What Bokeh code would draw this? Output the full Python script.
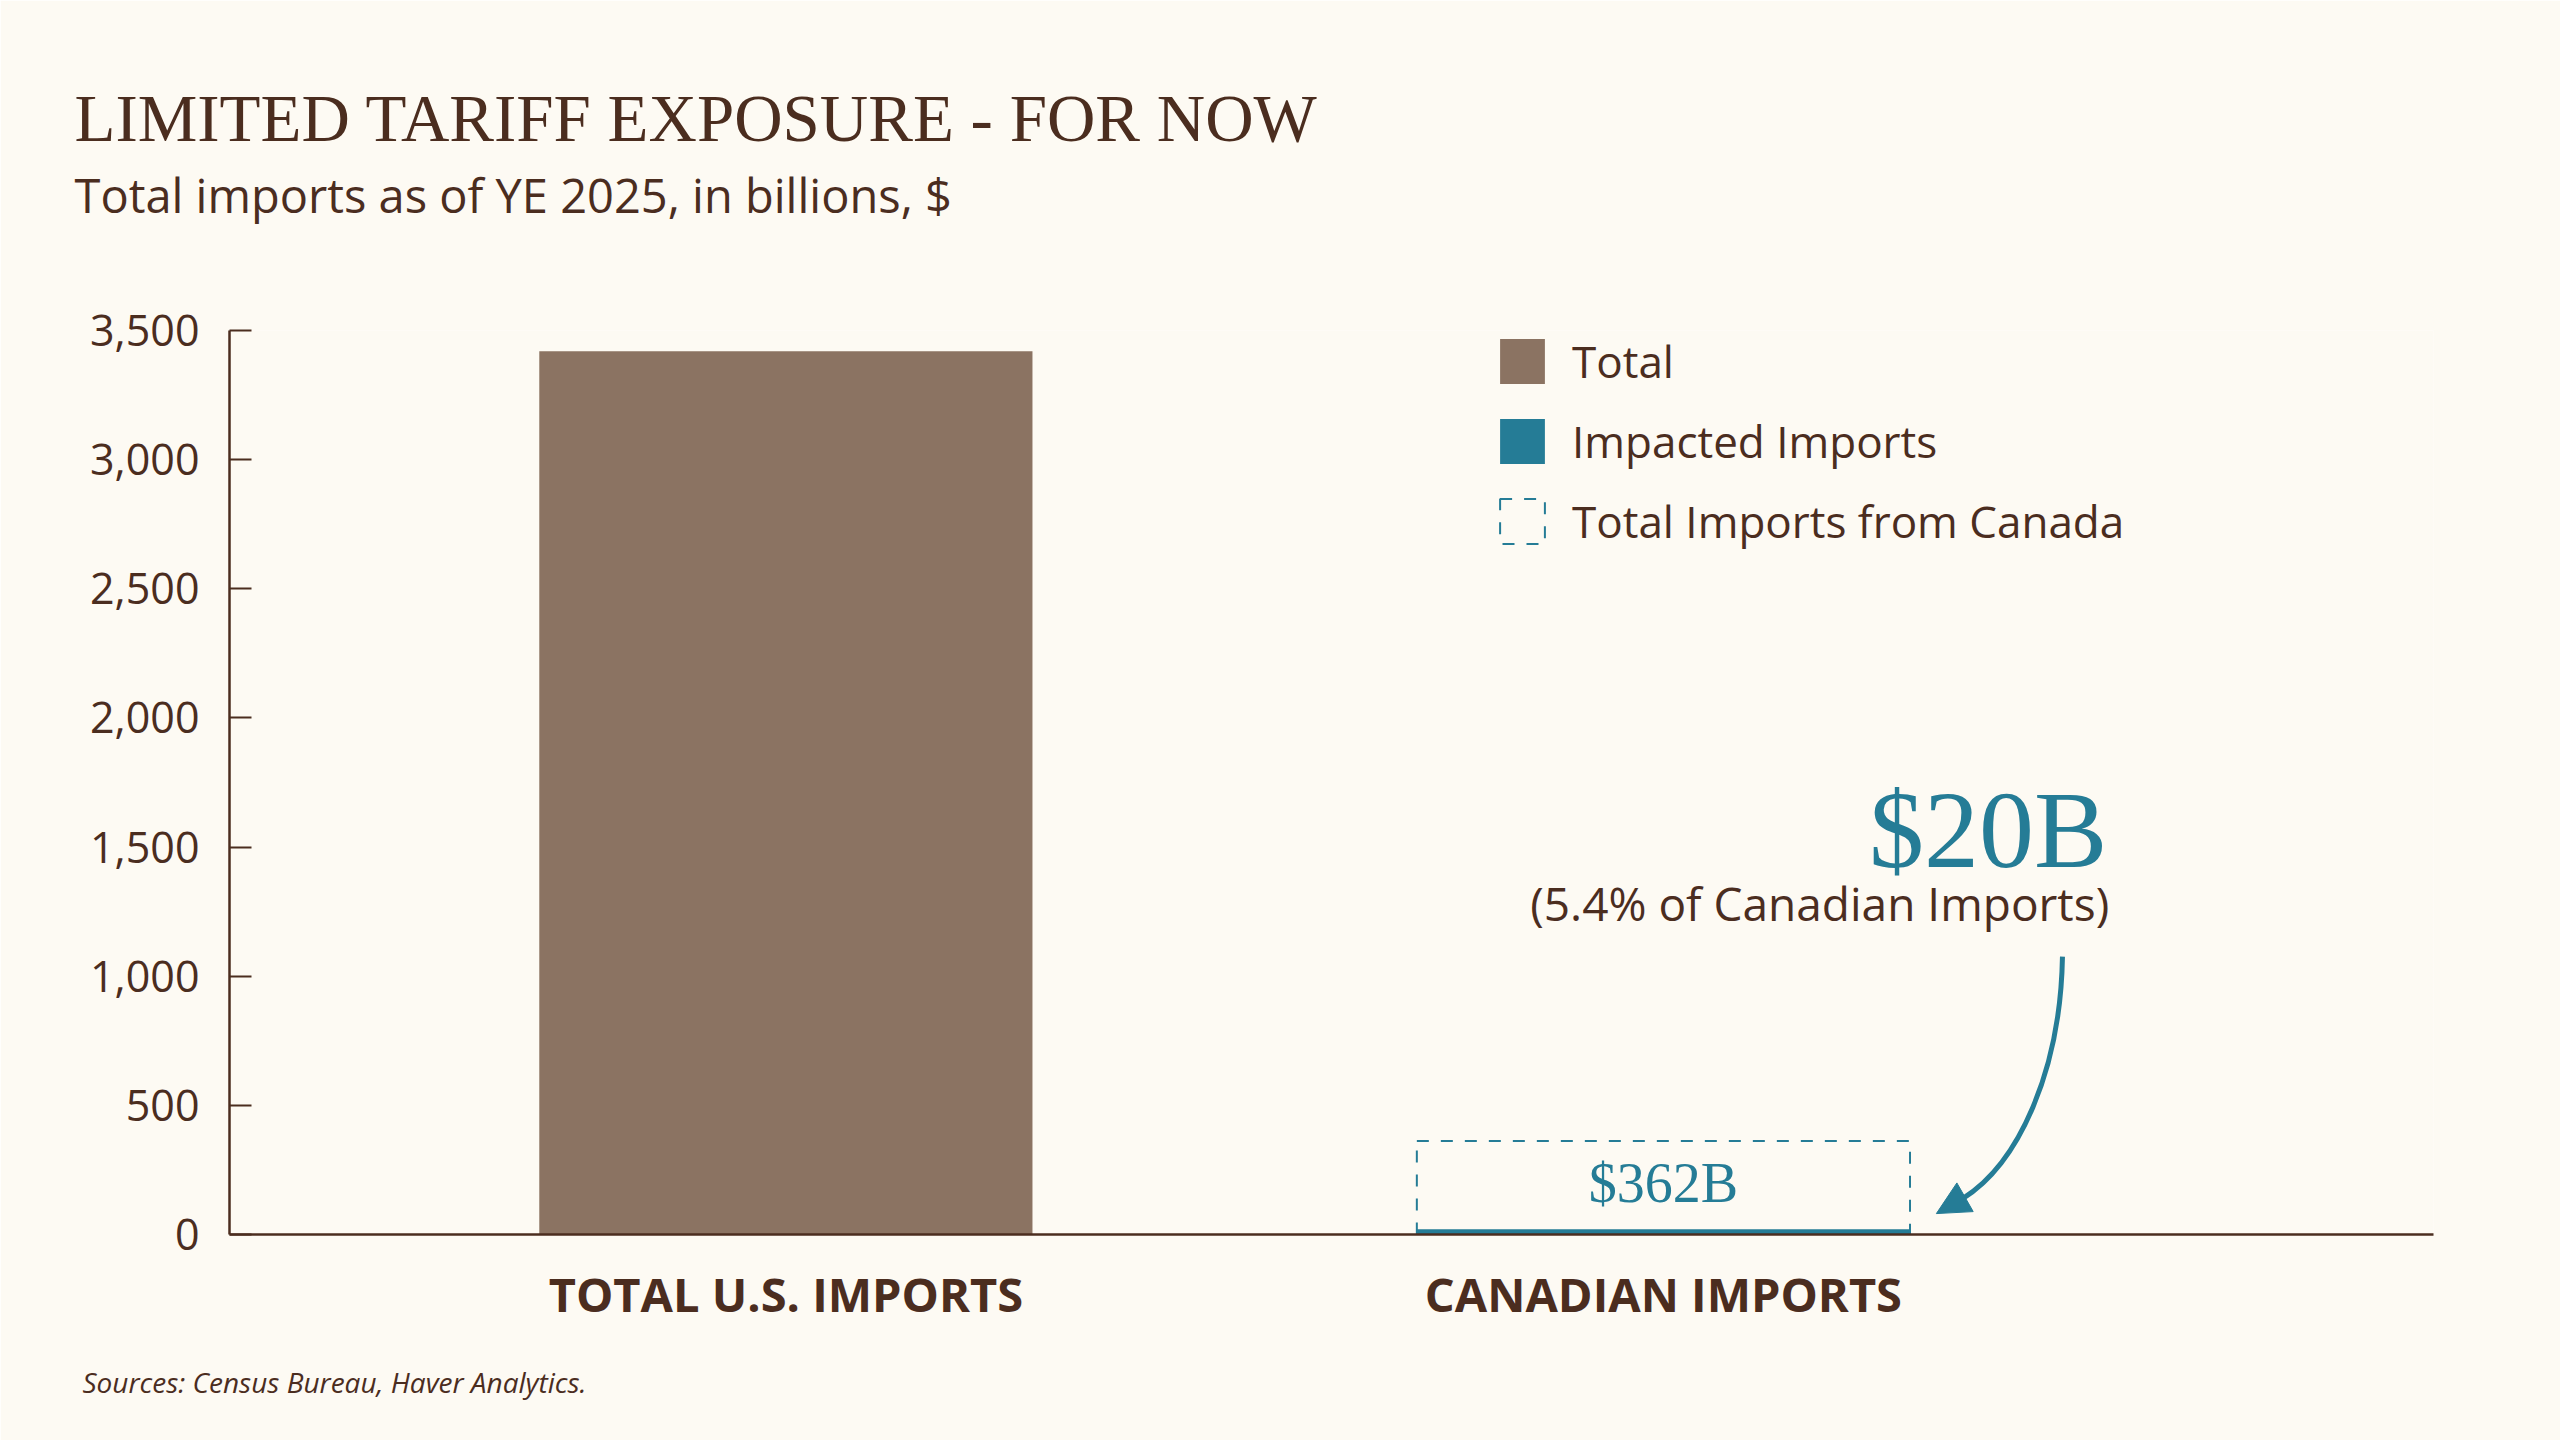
from bokeh.plotting import figure
from bokeh.models import (Label, Legend, LegendItem, FixedTicker, Title,
                          NumeralTickFormatter, Arrow, NormalHead)
from bokeh.embed import file_html
from bokeh.resources import INLINE

# data (billions of $, YE 2025)
categories = ["TOTAL U.S. IMPORTS", "CANADIAN IMPORTS"]
x_pos = [0, 1]
total_us = [3420]
canada_total = [362]
canada_impacted = [20]
impacted_share = "5.4%"
y_ticks = [0, 500, 1000, 1500, 2000, 2500, 3000, 3500]

# colours / fonts
bg = "#fdfaf3"
brown = "#4b2d1f"
bar_brown = "#8b7362"
teal = "#257c96"
serif = "Liberation Serif"
sans = "Open Sans"

p = figure(width=2560, height=1440, x_range=(-0.634, 1.8775), y_range=(0, 3500),
           output_backend="svg", toolbar_location=None,
           min_border_left=229, min_border_right=127,
           min_border_top=330, min_border_bottom=206)
p.background_fill_color = bg
p.border_fill_color = bg
p.outline_line_color = None
p.grid.visible = False

bar_w = 0.562
r_total = p.vbar(x=[x_pos[0]], top=total_us, width=bar_w, fill_color=bar_brown,
                 line_color=None)
r_canada = p.vbar(x=[x_pos[1]], top=canada_total, width=bar_w, fill_alpha=0,
                  line_color=teal, line_width=2, line_dash="12 12")
r_impact = p.vbar(x=[x_pos[1]], top=canada_impacted, width=bar_w, fill_color=teal,
                  line_color=None)

# axes
p.yaxis.ticker = FixedTicker(ticks=y_ticks)
p.yaxis.formatter = NumeralTickFormatter(format="0,0")
p.yaxis.major_tick_in = 22
p.yaxis.major_tick_out = 0
p.yaxis.minor_tick_line_color = None
p.yaxis.major_label_standoff = 30
p.xaxis.ticker = FixedTicker(ticks=x_pos)
p.xaxis.major_label_overrides = {x: c for x, c in zip(x_pos, categories)}
p.xaxis.minor_tick_line_color = None
p.xaxis.major_label_standoff = 21
for ax in (p.xaxis, p.yaxis):
    ax.axis_line_color = brown
    ax.axis_line_width = 2.5
    ax.major_tick_line_color = brown
    ax.major_tick_line_width = 2
    ax.major_label_text_color = brown
    ax.major_label_text_font = sans
p.yaxis.major_label_text_font_size = "43px"
p.xaxis.major_label_text_font_size = "47px"
p.xaxis.major_label_text_font_style = "bold"
p.xaxis.major_tick_line_color = None

# legend (kept just inside the frame so the first label is not clipped)
legend = Legend(items=[LegendItem(label="Total", renderers=[r_total]),
                       LegendItem(label="Impacted Imports", renderers=[r_impact]),
                       LegendItem(label="Total Imports from Canada", renderers=[r_canada])],
                location=(1265, 683), glyph_width=56, glyph_height=56,
                label_height=56, spacing=20, label_standoff=22, padding=0, margin=0,
                label_text_font=sans, label_text_font_size="44px",
                label_text_color=brown, background_fill_alpha=0,
                border_line_color=None)
p.add_layout(legend)

# titles: blank spacer nearest the frame, then subtitle, then title
p.add_layout(Title(text=" ", text_font=sans, text_font_size="10px", text_color=bg,
                   standoff=88), "above")
p.add_layout(Title(text="Total imports as of YE 2025, in billions, $", align="left",
                   offset=-155, text_font=sans, text_font_size="47px",
                   text_font_style="normal", text_color=brown,
                   vertical_align="bottom", standoff=0), "above")
p.add_layout(Title(text="LIMITED TARIFF EXPOSURE - FOR NOW", align="left",
                   offset=-155, text_font=serif, text_font_size="67px",
                   text_font_style="normal", text_color=brown,
                   vertical_align="bottom", standoff=11), "above")
p.add_layout(Title(text="Sources: Census Bureau, Haver Analytics.", align="left",
                   offset=-147, text_font=sans, text_font_size="28px",
                   text_font_style="italic", text_color=brown,
                   vertical_align="top", standoff=69), "below")

# annotations
p.add_layout(Label(x=x_pos[1], y=201, text="$%dB" % canada_total[0], text_font=serif,
                   text_font_size="56px", text_color=teal, text_align="center",
                   text_baseline="alphabetic"))
p.add_layout(Label(x=1.506, y=1565, text="$%dB" % canada_impacted[0], text_font=serif,
                   text_font_size="110px", text_color=teal, text_align="right",
                   text_baseline="alphabetic"))
p.add_layout(Label(x=1.508, y=1282, text="(%s of Canadian Imports)" % impacted_share,
                   text_font=sans, text_font_size="46px", text_color=brown,
                   text_align="right", text_baseline="alphabetic"))

# curved arrow pointing at the impacted bar
p.bezier(x0=[1.4547], y0=[1076], cx0=[1.4524], cy0=[634], cx1=[1.405], cy1=[275],
         x1=[1.341], y1=[139], line_color=teal, line_width=5)
p.add_layout(Arrow(end=NormalHead(size=33, fill_color=teal, line_color=teal),
                   x_start=1.341, y_start=139, x_end=1.311, y_end=81,
                   line_color=teal, line_width=5))

open("out.html", "w").write(file_html(p, INLINE))
